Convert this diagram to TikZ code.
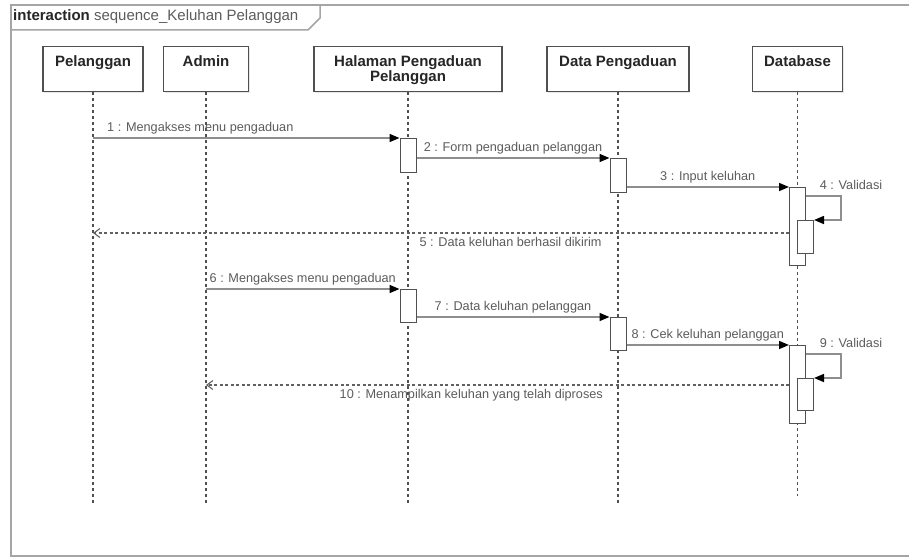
\documentclass[tikz,border=0pt]{standalone}
\usepackage{fontspec}
\setmainfont{Liberation Sans}
\usetikzlibrary{positioning, arrows.meta, shadows, calc}

\definecolor{linegray}{HTML}{8E8E8E}
\definecolor{boxgray}{HTML}{505050}
\definecolor{txtgray}{HTML}{5C5C5C}

\begin{document}
\begin{tikzpicture}[
    x=1pt, y=-1pt,
    actor/.style={draw=boxgray, line width=1.2pt, fill=white, anchor=north,
                  minimum width=#1, minimum height=45pt, inner sep=0pt,
                  drop shadow={fill=black!18, shadow xshift=1.2pt, shadow yshift=-1.2pt}},
    actorname/.style={anchor=north, inner sep=9pt, align=center, text=black!85,
                      font=\fontsize{15}{14}\selectfont\bfseries},
    lifeline/.style={draw=boxgray, line width=1.1pt, dash pattern=on 3pt off 3pt},
    activ/.style={draw=boxgray, line width=1pt, fill=white, anchor=north,
                  minimum width=16pt, minimum height=#1, inner sep=0pt},
    msg/.style={draw=linegray, line width=1.5pt,
                -{Triangle[length=10pt, width=8pt, color=black]}},
    ret/.style={draw=boxgray!90, line width=1.1pt, dash pattern=on 3pt off 2.5pt,
                -{Straight Barb[length=6pt, width=9pt]}},
    msglabel/.style={text=txtgray, font=\fontsize{12.7}{14}\selectfont},
    umlframe/.style={draw=linegray!80, line width=1.5pt},
]

\fill[white] (0,0) rectangle (909,559);
\useasboundingbox (0,0) rectangle (909,559);

% frame and its tab
\draw[umlframe] (909,5) -- (11,5) -- (11,556) -- (909,556);
\draw[umlframe] (11,30) -- (308,30) -- (320,18) -- (320,5);
\node[anchor=west, inner sep=0pt, text=txtgray, font=\fontsize{15}{16}\selectfont] (title)
    at (13,17) {\textcolor{black!85}{\textbf{interaction}} sequence\_Keluhan Pelanggan};

% participants
\node[actor=100pt, label={[actorname]north:{Pelanggan}}] (pel) at (93,46) {};
\node[actor=85pt, label={[actorname]north:{Admin}}] (adm) at (206,46) {};
\node[actor=188pt, label={[actorname]north:{Halaman Pengaduan\\Pelanggan}}] (hal) at (408,46) {};
\node[actor=142pt, label={[actorname]north:{Data Pengaduan}}] (dat) at (618,46) {};
\node[actor=90pt, label={[actorname]north:{Database}}] (dbs) at (797.5,46) {};

% lifelines
\foreach \n/\e in {pel/503, adm/503, hal/503, dat/503, dbs/496}{
    \coordinate (\n-end) at (\n.south |- 0,\e);
    \draw[lifeline] (\n.south) -- (\n-end);
}

% activations
\node[activ=34pt] (h1) at (408,138) {};
\node[activ=34pt] (d1) at (618,158) {};
\node[activ=78pt] (db1) at (797.5,187) {};
\node[activ=33pt] (db2) at (805.5,220) {};
\node[activ=33pt] (h2) at (408,289) {};
\node[activ=33pt] (d2) at (618,317) {};
\node[activ=78pt] (db3) at (797.5,345) {};
\node[activ=32pt] (db4) at (805.5,378) {};

% keluhan dikirim oleh pelanggan
\draw[msg] (pel.south |- h1.north) -- (h1.north west)
    node[msglabel, above, pos=0.35] {1 : Mengakses menu pengaduan};
\draw[msg] (h1.east |- d1.north) -- (d1.north west)
    node[msglabel, above, midway] {2 : Form pengaduan pelanggan};
\draw[msg] (d1.east |- db1.north) -- (db1.north west)
    node[msglabel, above, midway] {3 : Input keluhan};
\draw[msg] ([yshift=-9pt]db1.north east) -- ++(35,0)
    node[msglabel, anchor=south, inner sep=1pt, xshift=10pt, yshift=5pt] {4 : Validasi}
    |- (db2.north east);
\draw[ret] ([yshift=-46pt]db1.north west) -- ([yshift=-46pt]pel.south |- db1.north)
    node[msglabel, below, pos=0.4] {5 : Data keluhan berhasil dikirim};

% keluhan diproses oleh admin
\draw[msg] (adm.south |- h2.north) -- (h2.north west)
    node[msglabel, above, midway] {6 : Mengakses menu pengaduan};
\draw[msg] (h2.east |- d2.north) -- (d2.north west)
    node[msglabel, above, midway] {7 : Data keluhan pelanggan};
\draw[msg] (d2.east |- db3.north) -- (db3.north west)
    node[msglabel, above, midway] {8 : Cek keluhan pelanggan};
\draw[msg] ([yshift=-9pt]db3.north east) -- ++(35,0)
    node[msglabel, anchor=south, inner sep=1pt, xshift=10pt, yshift=5pt] {9 : Validasi}
    |- (db4.north east);
\draw[ret] ([yshift=-40pt]db3.north west) -- ([yshift=-40pt]adm.south |- db3.north)
    node[msglabel, below, pos=0.545] {10 : Menampilkan keluhan yang telah diproses};

\end{tikzpicture}
\end{document}
